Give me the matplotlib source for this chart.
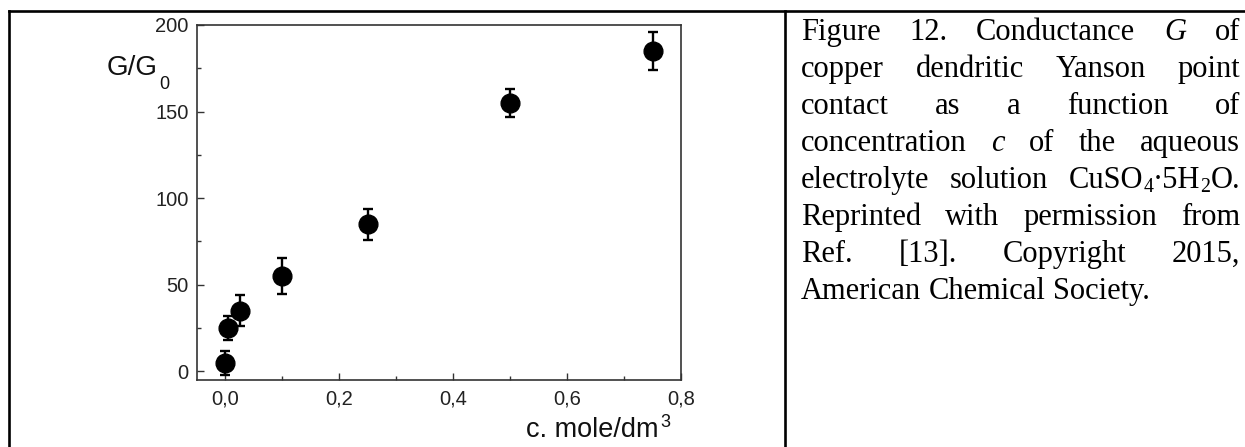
#Conductancia G/G0 vs concentración, con leyenda justificada al lado.

import matplotlib
matplotlib.use("Agg")
import matplotlib.pyplot as plt
from matplotlib.lines import Line2D
from matplotlib.ticker import MultipleLocator, FuncFormatter

# Datos
conc = [0.0, 0.005, 0.025, 0.1, 0.25, 0.5, 0.75]
g_g0 = [5, 25, 35, 55, 85, 155, 185]
err = [7, 7, 9, 10.5, 9, 8, 11]

x_ticks = [0.0, 0.2, 0.4, 0.6, 0.8]
y_ticks = [0, 50, 100, 150, 200]

# Texto de la leyenda (*x* = cursiva, _n = subíndice)
caption = [
    "Figure 12. Conductance *G* of",
    "copper dendritic Yanson point",
    "contact as a function of",
    "concentration *c* of the aqueous",
    "electrolyte solution CuSO_4·5H_2O.",
    "Reprinted with permission from",
    "Ref. [13]. Copyright 2015,",
    "American Chemical Society.",
]

W, H = 1245, 447
fig = plt.figure(figsize=(W / 100, H / 100), dpi=100)


def fx(px):
    return px / W


def fy(py):
    return 1 - py / H


# Grafico
ax = fig.add_axes([fx(197), fy(380), fx(681) - fx(197), fy(25) - fy(380)])
ax.errorbar(conc, g_g0, yerr=err, fmt="o", color="black", ms=13.5,
            elinewidth=1.7, capsize=3.8, capthick=1.7)
ax.set_xlim(-0.05, 0.8)
ax.set_ylim(-5, 200)
ax.set_xticks(x_ticks)
ax.set_yticks(y_ticks)
ax.xaxis.set_minor_locator(MultipleLocator(0.1))
ax.yaxis.set_minor_locator(MultipleLocator(25))
ax.xaxis.set_major_formatter(FuncFormatter(lambda v, p: f"{v:.1f}".replace(".", ",")))
ax.tick_params(which="both", direction="in", top=False, right=False,
               labelsize=14.5, labelcolor="#222222", color="#333333")
ax.tick_params(which="major", length=5, width=1, pad=6)
ax.tick_params(which="minor", length=3, width=1)
ax.tick_params(axis="x", pad=7)
for lab in ax.get_xticklabels() + ax.get_yticklabels():
    lab.set_family("Liberation Sans")
for s in ax.spines.values():
    s.set_color("#333333")
    s.set_linewidth(1.2)

renderer = fig.canvas.get_renderer()


def width_of(t):
    return t.get_window_extent(renderer).width


# Etiquetas de los ejes (con sub/superíndice manual)
sans = "Liberation Sans"
t = fig.text(fx(107), fy(75), "G/G", fontsize=20, family=sans, va="baseline", color="#111111")
fig.text(fx(107 + width_of(t) + 1), fy(89), "0", fontsize=13, family=sans, va="baseline", color="#111111")

t = fig.text(fx(526), fy(437), "c. mole/dm", fontsize=19.5, family=sans, va="baseline", color="#111111")
fig.text(fx(526 + width_of(t) + 2), fy(427), "3", fontsize=13, family=sans, va="baseline", color="#111111")

# Leyenda justificada
serif = "Liberation Serif"
cap_size = 22
cap_px = cap_size * 100 / 72
left, right = 801, 1240
base0, step = 40, 37


def runs_of(word):
    if word.startswith("*") and word.endswith("*"):
        return [(word[1:-1], "italic")]
    runs, buf, i = [], "", 0
    while i < len(word):
        if word[i] == "_":
            if buf:
                runs.append((buf, "normal"))
                buf = ""
            runs.append((word[i + 1], "sub"))
            i += 2
        else:
            buf += word[i]
            i += 1
    if buf:
        runs.append((buf, "normal"))
    return runs


for n, line in enumerate(caption):
    yb = base0 + n * step
    words = []
    for w in line.split(" "):
        pieces = []
        for txt, kind in runs_of(w):
            if kind == "sub":
                tt = fig.text(0, fy(yb + 4), txt, fontsize=cap_size * 0.65, family=serif, va="baseline")
            else:
                tt = fig.text(0, fy(yb), txt, fontsize=cap_size, family=serif,
                              style=kind, va="baseline")
            pieces.append((tt, width_of(tt)))
        words.append(pieces)
    widths = [sum(p[1] for p in w) for w in words]
    if n < len(caption) - 1:
        gap = (right - left - sum(widths)) / (len(words) - 1)
    else:
        gap = 0.25 * cap_px
    x = left
    for w, wd in zip(words, widths):
        xx = x
        for tt, pw in w:
            tt.set_x(fx(xx))
            xx += pw
        x += wd + gap

# Bordes de la tabla
lw = 1.9
fig.add_artist(Line2D([fx(8.5), fx(W)], [fy(11), fy(11)], transform=fig.transFigure, color="black", lw=lw))
fig.add_artist(Line2D([fx(8.5), fx(8.5)], [fy(11), fy(H)], transform=fig.transFigure, color="black", lw=lw))
fig.add_artist(Line2D([fx(785), fx(785)], [fy(11), fy(H)], transform=fig.transFigure, color="black", lw=lw))

plt.savefig("out.png", dpi=100)
